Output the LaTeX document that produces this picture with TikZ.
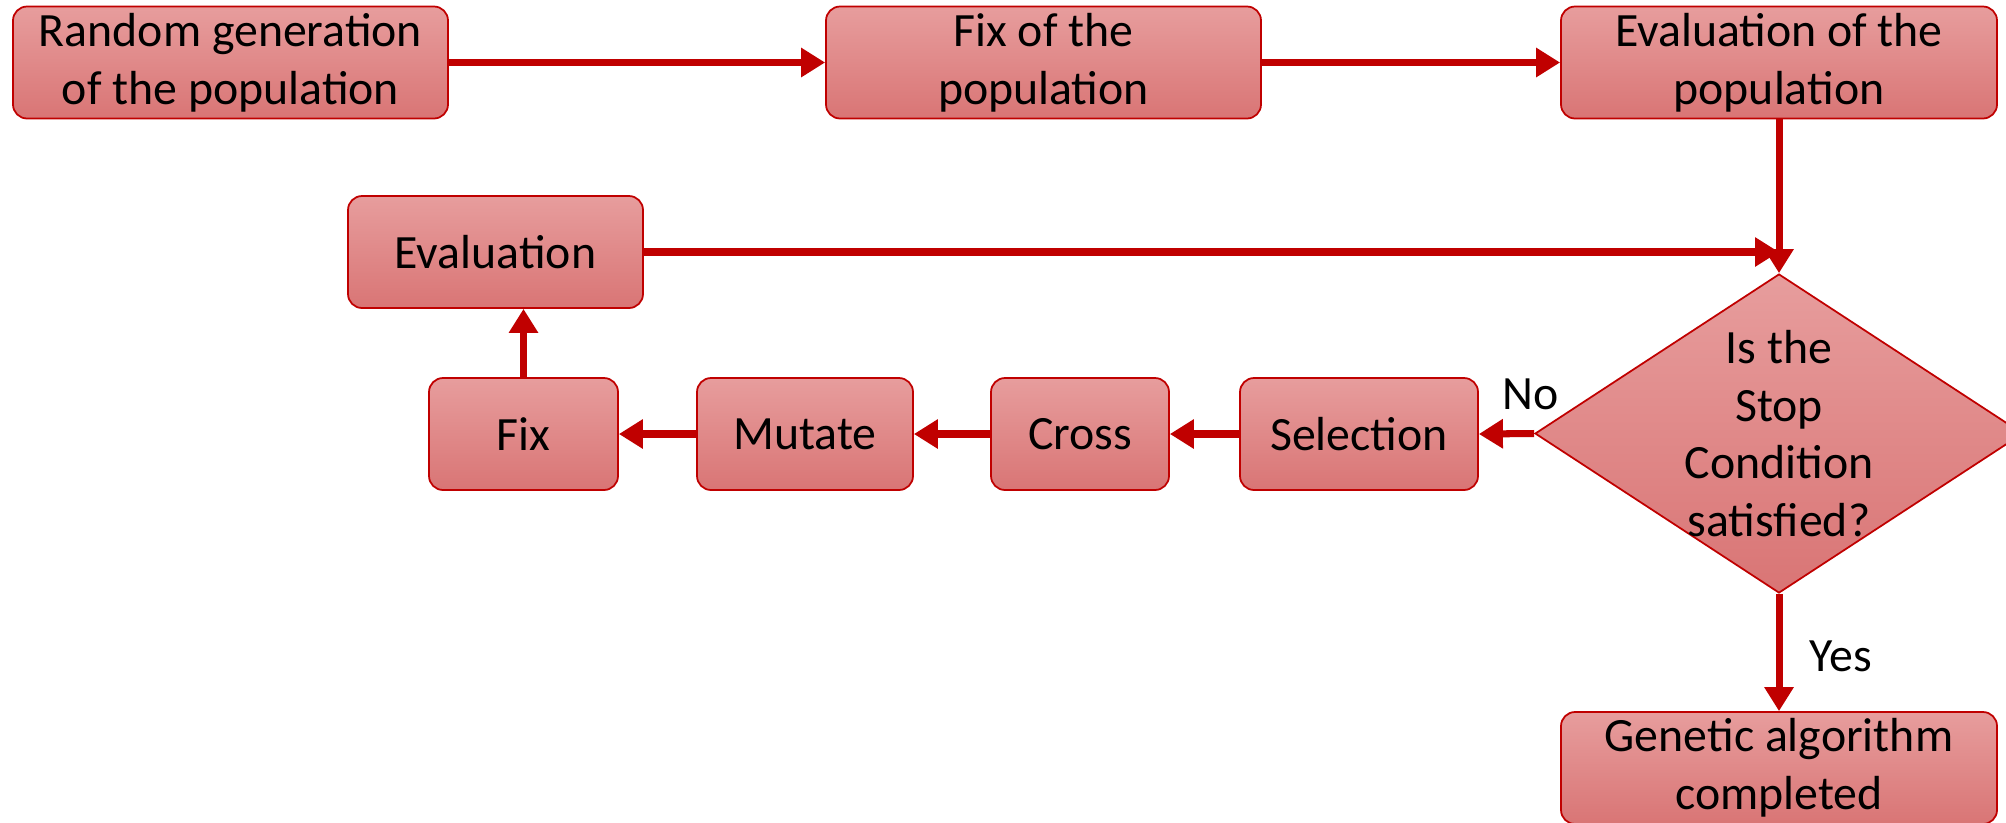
\documentclass[tikz,border=0pt]{standalone}
\usepackage{fontspec}
\setmainfont{Carlito}
\usepackage{xcolor}
\usetikzlibrary{arrows.meta,shapes.geometric}
\definecolor{gared}{HTML}{C00000}
\definecolor{gatop}{HTML}{E79D9D}
\definecolor{gabot}{HTML}{D97575}

\begin{document}
\begin{tikzpicture}[
  box/.style={draw=gared, line width=0.5pt, rounded corners=4pt, top color=gatop, bottom color=gabot,
    minimum height=1.12cm, align=center, inner sep=1pt, font=\fontsize{13.6}{16.4}\selectfont},
  decision/.style={diamond, draw=gared, line width=0.5pt, top color=gatop, bottom color=gabot,
    minimum width=4.88cm, minimum height=3.19cm, inner sep=0pt},
  flow/.style={draw=gared, line width=2pt, -{Triangle[length=0.24cm, width=0.28cm]}},
  lab/.style={inner sep=0pt, align=center, font=\fontsize{13.6}{16.4}\selectfont}
]
  \useasboundingbox (0, 0) rectangle (20.06, -8.22);

  % Initial population
  \node[box, minimum width=4.35cm] (rand) at (2.305, -0.625) {Random generation\\of the population};
  \node[box, minimum width=4.35cm] (fixpop) at (10.435, -0.625) {Fix of the\\population};
  \node[box, minimum width=4.36cm] (evalpop) at (17.79, -0.625) {Evaluation of the\\population};

  % Stop test
  \node[decision] (stop) at (17.79, -4.335) {};
  \node[lab] (stoptxt) at (stop) {Is the\\Stop\\Condition\\satisfied?};
  \node[box, minimum width=4.36cm] (done) at (17.79, -7.68) {Genetic algorithm\\completed};

  % Generation loop
  \node[box, minimum width=2.38cm] (sel) at (13.59, -4.34) {Selection};
  \node[box, minimum width=1.78cm] (cross) at (10.80, -4.34) {Cross};
  \node[box, minimum width=2.16cm] (mut) at (8.05, -4.34) {Mutate};
  \node[box, minimum width=1.89cm] (fix) at (5.235, -4.34) {Fix};
  \node[box, minimum width=2.95cm] (eval) at (4.955, -2.52) {Evaluation};

  % Connectors
  \draw[flow] (rand) -- (fixpop);
  \draw[flow] (fixpop) -- (evalpop);
  \draw[flow] (evalpop) -- (stop);
  \draw[flow] (eval.east) -- (eval.east -| stop.north);
  \draw[flow] (stop.west) -- node[lab, pos=0.07, above=0.2cm] (no) {No} (sel.east);
  \draw[flow] (sel) -- (cross);
  \draw[flow] (cross) -- (mut);
  \draw[flow] (mut) -- (fix);
  \draw[flow] (fix.north) -- (fix.north |- eval.south);
  \draw[flow] (stop.south) -- node[lab, pos=0.53, right=0.27cm] (yes) {Yes} (done.north);

\end{tikzpicture}
\end{document}
